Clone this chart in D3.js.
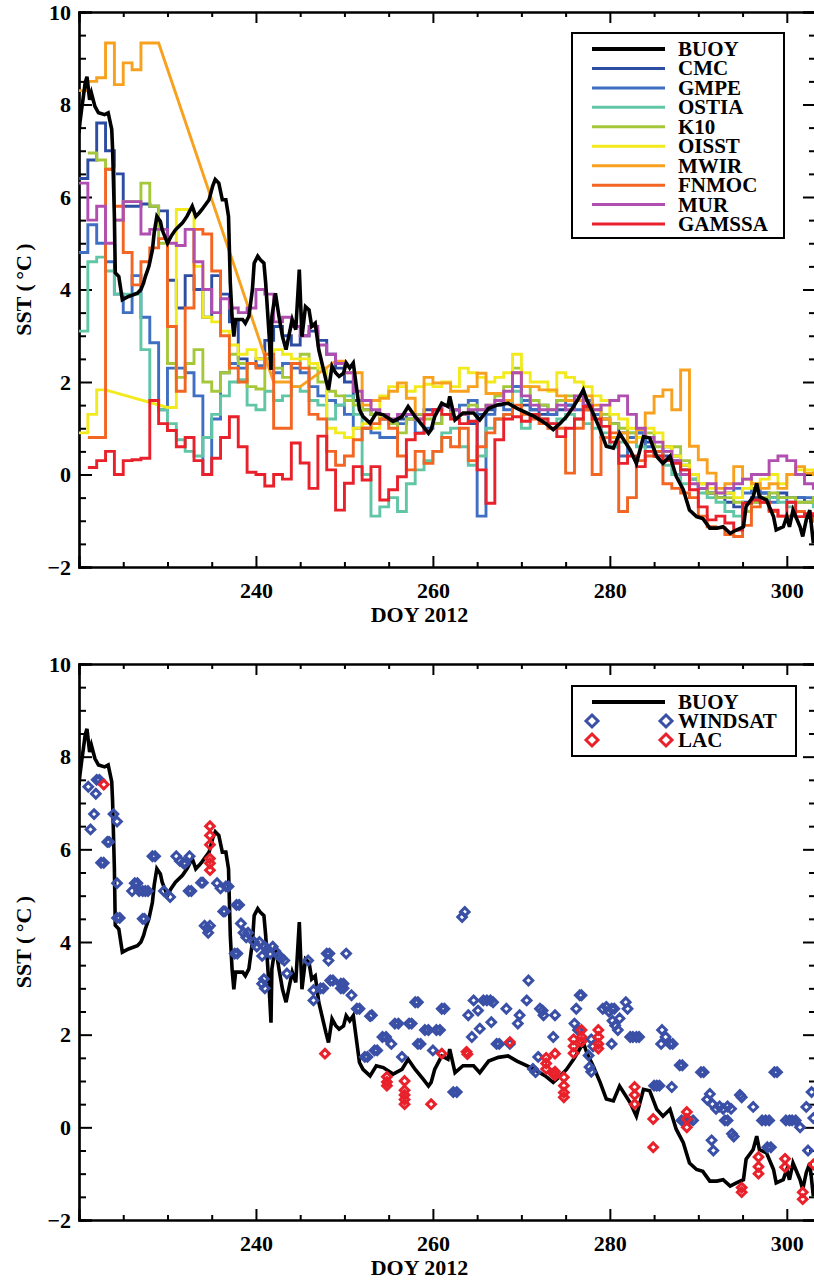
<!DOCTYPE html>
<html>
<head>
<meta charset="utf-8">
<script src="https://cdn.jsdelivr.net/npm/d3@7"></script>
<style>
body { margin: 0; background: #fff; }
svg { display: block; }
text { font-family: "Liberation Serif", "Times New Roman", serif; font-weight: bold; fill: #000; }
</style>
</head>
<body>
<svg width="814" height="1282"></svg>
<script>
var svg = d3.select('svg');

// days 220..303, one value per day (null = no data)
var days = d3.range(220, 304);

var cmc = [6.4, 6.8, 7.6, 7.0, 6.5, 5.8, 5.8, 5.85, 5.8, 5.7,
    4.2, 3.6, 4.3, 4.0, 3.4, 4.3, 3.9, 3.3, 2.5, 2.4,
    2.5, 2.9, 3.2, 3.0, 2.8, 3.0, 3.1, 2.9, 2.6, 2.3,
    2.0, 1.6, 1.4, 1.3, 1.2, 1.15, 1.2, 1.3, 1.3, 1.4,
    1.4, 1.5, 1.4, 1.3, 1.1, 1.3, 1.4, 1.5, 1.6, 1.9,
    1.5, 1.4, 1.3, 1.3, 1.4, 1.5, 1.6, 1.4, 1.3, 1.2,
    1.1, 0.9, 0.8, 0.9, 0.7, 0.5, 0.4, 0.3, 0.1, -0.1,
    -0.3, -0.4, -0.5, -0.6, -0.7, -0.6, -0.5, -0.4, -0.5, -0.4,
    -0.5, -0.5, -0.6, -0.6];
var gmpe = [4.8, 5.4, 5.0, 4.6, 3.9, 3.5, 4.3, 3.4, 2.85, 1.4,
    2.3, 2.3, 2.2, 1.7, 0.0, 1.2, 2.2, 2.4, 2.3, 2.4,
    2.35, 2.5, 2.2, 2.4, 2.3, 2.2, 1.9, 1.7, 1.6, 1.5,
    1.3, 1.0, 1.0, 0.9, 0.8, 0.8, 1.1, 1.2, 0.9, 1.0,
    1.1, 1.3, 1.4, 1.5, 1.6, -0.9, 1.3, 1.5, 1.4, 1.9,
    1.6, 1.4, 1.5, 1.3, 1.6, 1.5, 1.4, 1.6, 1.3, 0.8,
    0.6, 0.4, 0.8, 0.9, 0.6, 0.5, 0.6, 0.4, 0.2, 0.0,
    -0.3, -0.4, -0.5, -0.4, -0.3, -0.4, -0.3, -0.4, -0.6, -0.5,
    -0.6, -0.5, -0.5, -0.6];
var ostia = [3.1, 4.6, 4.7, 4.4, 3.9, 3.9, 3.9, 2.7, 1.6, 1.4,
    1.1, 0.75, 0.5, 0.4, 0.8, 1.3, 1.7, 2.0, 2.05, 1.5,
    1.4, 1.8, 1.6, 1.7, 1.9, 1.8, 1.6, 1.5, 1.2, 1.5,
    1.7, 1.3, 0.0, -0.9, -0.7, -0.5, -0.8, -0.2, 0.1, 0.3,
    0.5, 0.9, 1.0, 0.6, 0.2, 0.4, 1.0, 1.2, 1.3, 1.8,
    1.0, 1.3, 1.2, 1.1, 1.2, 1.3, 1.2, 1.1, 1.0, 0.9,
    0.6, 0.7, 0.9, 0.6, 0.5, 0.4, 0.2, 0.0, -0.2, -0.1,
    -0.4, -0.5, -0.6, -0.8, -0.9, -0.8, -0.6, -0.6, -0.5, -0.6,
    -0.7, -0.6, -0.6, -0.7];
var k10 = [null, 6.95, 6.8, 6.6, 5.5, 5.9, 5.9, 6.3, 5.8, 5.0,
    2.4, 2.1, 2.4, 2.7, 2.0, 1.8, 2.2, 2.6, 2.4, 1.9,
    1.85, 2.5, 2.3, 2.1, 2.4, 2.6, 2.3, 2.0, 1.8, 1.7,
    1.6, 1.5, 1.4, 1.3, 1.3, 1.1, 0.9, 1.2, 1.3, 1.2,
    1.1, 1.3, 1.4, 1.3, 1.5, 1.4, 1.5, 1.7, 1.9, 2.3,
    1.9, 1.6, 1.5, 1.4, 1.6, 1.7, 1.6, 1.5, 1.4, 1.3,
    1.1, 1.0, 0.9, 0.8, 0.9, 0.6, 0.5, 0.6, 0.3, 0.0,
    -0.2, -0.4, -0.5, -0.5, -0.6, -0.8, -0.6, -0.5, -0.4, -0.5,
    -0.5, -0.6, -0.6, -0.5];
var oisst = [0.9, 1.3, 1.83, null, null, null, null, null, null, null,
    1.45, 5.73, 5.73, 4.5, 3.4, 3.3, 3.1, 2.8, 2.6, 2.7,
    2.5, 2.6, 2.7, 2.6, 2.5, 2.5, 2.4, 2.3, 1.0, 0.9,
    0.8, 1.0, 1.1, 1.0, 1.7, 1.9, 1.9, 1.8, 1.9, 1.95,
    1.9, 2.0, 1.9, 2.3, 2.2, 2.1, 2.0, 2.1, 2.2, 2.6,
    2.2, 2.0, 2.0, 1.8, 2.2, 2.1, 2.0, 1.9, 1.7, 1.6,
    1.3, 1.2, 1.0, 0.8, 1.0, 0.9, 0.6, 0.4, 0.2, 0.0,
    -0.2, -0.3, -0.4, -0.4, -0.5, -0.3, -0.2, -0.1, 0.0, -0.2,
    0.0, 0.1, 0.1, 0.0];
var mwir = [8.3, 8.5, 8.58, 9.33, 8.43, 8.9, 8.75, 9.33, 9.33, null,
    null, null, null, null, null, null, null, null, null, null,
    null, null, 2.0, 2.0, 1.9, null, null, null, null, 2.45,
    2.2, 2.2, 1.5, 1.6, 1.65, 1.8, 1.98, 1.65, 1.2, 2.1,
    1.98, 1.98, 1.8, 1.8, 1.9, 2.19, 1.75, 1.75, 1.6, 2.2,
    1.9, 1.9, 1.83, 1.83, 1.7, 1.6, 1.6, 1.7, 1.5, 1.2,
    0.8, 0.9, 0.7, 0.97, 1.33, 1.69, 1.83, 1.4, 2.26, 0.61,
    0.32, 0.03, -0.3, -0.2, 0.17, -0.1, -0.2, -0.3, -0.2, -0.3,
    0.0, 0.17, 0.03, 0.0];
var fnmoc = [null, 0.8, 0.8, 6.6, 5.8, 4.8, 4.1, 4.6, 4.9, 5.1,
    3.2, 1.8, 3.6, 5.3, 5.2, 4.4, 3.0, 2.3, 2.0, 2.4,
    2.3, 2.6, 1.0, 1.0, 2.4, 2.3, 1.3, 1.2, 0.5, 0.2,
    0.4, 0.75, 1.0, 1.1, 1.2, 1.0, 0.4, 0.1, 0.5, 0.24,
    0.5, 0.8, 0.6, 1.0, 0.3, 0.6, 0.9, 1.2, 1.3, 1.5,
    1.3, 1.2, 1.1, 1.0, 1.0, 0.03, 1.0, 1.4, 0.0, 0.8,
    0.9, -0.8, -0.5, 0.3, 0.4, 0.5, -0.2, -0.3, -0.4, -0.5,
    -0.9, -1.13, -1.15, -1.3, -1.34, -1.1, -0.7, -0.6, -0.8, -0.9,
    -0.9, -0.8, -0.9, -1.0];
var mur = [6.3, 5.5, 5.8, 5.0, 5.5, 5.9, 5.9, 5.2, 5.3, 5.3,
    5.0, 4.95, 5.3, 4.6, 4.0, 3.5, 3.8, 3.6, 3.5, 3.6,
    4.0, 3.9, 3.3, 3.4, 3.2, 3.0, 3.2, 2.8, 2.6, 2.4,
    2.2, 1.8, 1.6, 1.4, 1.3, 1.2, 1.3, 1.3, 1.2, 1.3,
    1.4, 1.5, 1.4, 1.3, 1.4, 1.4, 1.5, 1.6, 1.8, 2.2,
    1.7, 1.5, 1.4, 1.4, 1.5, 1.4, 1.7, 1.5, 1.4, 1.5,
    1.6, 1.7, 1.3, 1.0, 0.8, 0.7, 0.5, 0.3, 0.0, -0.2,
    -0.3, -0.2, -0.4, -0.3, -0.2, -0.1, 0.0, 0.0, 0.3, 0.4,
    0.3, 0.0, -0.2, -0.3];
var gamssa = [null, 0.15, 0.3, 0.5, 0.0, 0.3, 0.32, 0.35, 1.6, 1.1,
    0.95, 0.6, 0.8, 0.3, 0.0, 0.35, 0.8, 1.25, 0.6, 0.05,
    0.0, -0.25, 0.0, -0.1, 0.68, 0.25, -0.3, 0.83, 0.1, -0.77,
    -0.19, 0.17, -0.12, 0.17, -0.55, -0.33, -0.05, 0.75, 0.89, 1.29,
    1.4, 1.3, 1.2, 1.1, 1.15, 0.1, -0.62, 0.75, 1.2, 1.25,
    1.15, 1.3, 1.2, 1.1, 0.82, 1.0, 1.2, 1.47, 1.2, 1.04,
    0.7, 0.24, 0.4, 0.17, 0.5, 0.4, 0.3, 0.24, 0.1, -0.33,
    -0.7, -0.98, -0.9, -1.05, -1.2, -0.62, -0.55, -0.6, -0.77, -0.9,
    -0.6, -0.91, -0.85, -0.9];

// buoy record
var buoyDays = [220.0, 220.1, 220.3, 220.5, 220.7, 220.9, 221.2, 221.4, 221.8, 222.2,
    222.9, 223.3, 223.7, 223.8, 224.0, 224.1, 224.5, 224.9, 225.6, 226.6,
    227.0, 227.3, 227.5, 227.9, 228.3, 228.5, 228.8, 229.2, 229.4, 230.0,
    230.4, 230.9, 231.7, 232.2, 232.8, 233.2, 233.6, 233.9, 234.7, 235.1,
    235.4, 235.8, 236.2, 236.6, 236.9, 237.1, 237.3, 237.5, 237.7, 238.5,
    238.8, 239.2, 239.6, 239.8, 240.2, 240.5, 240.9, 241.1, 241.5, 241.7,
    241.8, 242.2, 242.6, 243.0, 243.4, 243.7, 244.1, 244.5, 244.9, 245.2,
    245.6, 246.0, 246.3, 246.7, 247.1, 247.9, 248.2, 248.6, 249.0, 249.4,
    249.9, 250.2, 250.6, 251.0, 251.4, 251.7, 252.1, 252.9, 253.6, 254.4,
    255.5, 256.5, 257.2, 258.0, 258.9, 259.5, 259.8, 260.2, 261.0, 261.7,
    261.9, 262.5, 263.4, 264.6, 265.3, 266.3, 267.4, 268.5, 269.5, 270.6,
    271.5, 272.7, 273.6, 274.4, 275.1, 275.9, 276.6, 277.0, 277.4, 278.1,
    278.9, 279.6, 280.4, 281.1, 282.3, 283.0, 283.8, 284.5, 285.3, 286.0,
    286.8, 287.5, 288.3, 289.0, 289.8, 290.5, 291.3, 292.1, 292.8, 293.6,
    294.3, 295.1, 295.4, 296.2, 296.6, 296.9, 297.7, 298.5, 298.8, 299.6,
    300.0, 300.3, 300.7, 301.5, 301.8, 302.2, 302.6, 303.0];
var buoyTemps = [7.39, 7.6, 7.9, 8.18, 8.47, 8.6, 8.1, 8.25, 7.96, 7.82,
    7.78, 7.82, 7.46, 7.02, 5.58, 4.36, 4.28, 3.78, 3.85, 3.92,
    4.0, 4.14, 4.28, 4.5, 4.86, 5.23, 5.58, 5.47, 5.29, 5.0,
    5.15, 5.29, 5.44, 5.58, 5.8, 5.58, 5.66, 5.73, 5.94, 6.23,
    6.38, 6.3, 5.94, 5.94, 5.58, 4.14, 3.42, 2.98, 3.35, 3.35,
    3.27, 3.42, 4.0, 4.57, 4.72, 4.64, 4.57, 4.14, 2.98, 2.26,
    3.42, 3.92, 3.42, 2.98, 2.7, 2.98, 3.35, 3.13, 4.43, 2.98,
    3.63, 3.56, 3.2, 3.27, 2.7, 2.05, 1.83, 2.34, 2.2, 2.12,
    2.19, 2.41, 2.3, 2.41, 1.83, 1.4, 1.25, 1.11, 1.33, 1.29,
    1.15, 1.25, 1.47, 1.25, 1.04, 0.89, 0.97, 1.25, 1.54, 1.47,
    1.69, 1.18, 1.33, 1.33, 1.18, 1.43, 1.51, 1.54, 1.43, 1.33,
    1.25, 1.11, 0.97, 1.11, 1.25, 1.47, 1.69, 1.83, 1.61, 1.33,
    0.97, 0.61, 0.57, 0.89, 0.53, 0.24, 0.82, 0.79, 0.39, 0.24,
    0.39, -0.04, -0.33, -0.77, -0.91, -0.95, -1.16, -1.16, -1.13, -1.27,
    -1.2, -1.13, -0.69, -0.48, -0.19, -0.48, -0.55, -0.91, -1.2, -1.13,
    -0.91, -1.13, -0.77, -1.13, -1.34, -0.98, -0.77, -1.49];

// satellite retrievals (bottom panel)
var windsatDays = [221.05, 221.3, 221.7, 221.9, 222.0, 222.3, 222.5, 222.8, 223.2, 223.4,
    223.9, 224.3, 224.3, 224.3, 224.6, 226.0, 226.3, 226.6, 226.8, 227.2,
    227.4, 227.2, 227.5, 227.8, 228.3, 228.6, 229.6, 230.3, 231.0, 231.4,
    231.8, 232.0, 232.5, 232.4, 232.7, 233.8, 234.0, 234.2, 234.5, 234.8,
    234.6, 235.6, 236.0, 236.3, 236.5, 236.6, 236.9, 237.6, 237.9, 237.8,
    238.1, 238.3, 238.6, 238.9, 239.1, 239.8, 240.1, 240.4, 240.7, 241.0,
    241.3, 241.6, 241.9, 242.2, 242.6, 242.9, 243.2, 240.7, 241.0, 240.9,
    243.5, 245.9, 246.5, 246.5, 247.3, 247.6, 248.0, 248.3, 248.2, 248.4,
    248.7, 249.6, 249.9, 249.6, 249.9, 250.2, 250.8, 251.4, 251.7, 252.3,
    252.6, 252.9, 253.1, 253.4, 253.7, 254.3, 254.7, 255.3, 255.7, 256.1,
    256.5, 257.3, 257.6, 258.0, 258.3, 258.3, 258.6, 259.1, 259.5, 260.0,
    260.4, 260.8, 261.0, 261.3, 262.3, 262.7, 263.3, 263.6, 264.0, 264.4,
    264.6, 265.1, 265.3, 265.7, 266.1, 266.5, 266.8, 266.6, 267.2, 267.5,
    268.3, 268.7, 269.6, 269.8, 270.6, 270.8, 271.3, 271.6, 271.9, 272.1,
    272.4, 272.5, 273.6, 273.8, 276.0, 276.2, 276.4, 276.6, 276.8, 277.6,
    277.9, 278.1, 277.7, 277.9, 279.2, 279.6, 279.9, 280.2, 280.5, 280.3,
    280.6, 280.9, 281.1, 280.2, 281.8, 282.0, 282.3, 282.6, 283.0, 283.3,
    285.0, 285.3, 285.6, 285.8, 285.9, 286.3, 286.8, 287.1, 287.0, 287.9,
    288.2, 288.1, 288.5, 288.9, 289.4, 290.3, 290.6, 291.0, 291.3, 291.6,
    291.5, 291.7, 292.0, 292.4, 292.8, 293.3, 293.7, 293.0, 293.3, 293.8,
    294.0, 294.7, 294.9, 296.2, 297.2, 297.6, 298.0, 297.8, 298.2, 298.6,
    298.9, 299.9, 300.3, 300.6, 301.0, 301.5, 302.2, 302.4, 302.8, 303.0];
var windsatTemps = [7.35, 6.43, 6.76, 7.2, 7.5, 7.5, 5.71, 5.71, 6.16, 6.16,
    6.76, 6.6, 5.27, 4.52, 4.52, 5.1, 5.27, 5.27, 5.1, 4.5,
    4.5, 5.1, 5.1, 5.1, 5.85, 5.85, 5.1, 4.97, 5.85, 5.75,
    5.7, 5.7, 5.85, 5.1, 5.1, 5.28, 5.28, 4.35, 4.3, 4.35,
    4.2, 5.27, 5.16, 4.66, 4.66, 5.2, 5.2, 3.75, 3.75, 4.8,
    4.8, 4.4, 4.2, 4.1, 4.2, 4.0, 3.9, 4.0, 3.7, 3.9,
    3.85, 3.75, 3.9, 3.8, 3.7, 3.65, 3.6, 3.1, 3.0, 3.2,
    3.32, 3.6, 2.96, 2.74, 3.0, 3.0, 3.75, 3.75, 3.6, 3.17,
    3.17, 3.1, 3.1, 3.0, 3.0, 3.75, 2.85, 2.56, 2.56, 1.52,
    1.52, 2.4, 2.42, 1.66, 1.66, 1.95, 1.95, 1.8, 2.24, 2.24,
    1.52, 2.24, 2.24, 2.7, 2.7, 1.8, 1.8, 2.1, 2.1, 1.66,
    2.1, 2.1, 2.56, 2.56, 0.76, 0.76, 4.54, 4.65, 2.42, 1.95,
    2.74, 2.52, 2.13, 2.74, 2.74, 2.74, 2.7, 2.27, 1.8, 1.8,
    2.56, 1.8, 2.24, 2.42, 2.74, 3.17, 1.26, 1.19, 1.52, 2.56,
    2.52, 2.42, 1.95, 2.42, 2.24, 2.56, 2.1, 2.85, 2.85, 1.55,
    1.9, 1.75, 1.3, 1.2, 2.56, 2.6, 2.5, 2.56, 2.56, 2.3,
    2.2, 2.1, 2.35, 1.8, 2.7, 2.56, 1.95, 1.95, 1.95, 1.95,
    0.9, 0.9, 0.9, 1.8, 2.1, 1.95, 1.8, 1.8, 0.87, 1.34,
    1.34, 0.15, 0.15, 0.15, 0.15, 1.19, 1.19, 0.6, 0.72, 0.5,
    -0.28, -0.5, 0.4, 0.45, 0.4, 0.45, 0.4, 0.15, 0.15, -0.14,
    -0.2, 0.7, 0.65, 0.44, 0.15, 0.15, 0.15, -0.43, -0.43, 1.19,
    1.19, 0.15, 0.15, 0.15, 0.15, 0.0, 0.44, -0.5, 0.76, 0.2];

var lacDays = [222.8, 234.8, 234.8, 234.8, 234.8, 234.8, 234.8, 247.8, 254.8, 254.8,
    254.8, 256.8, 256.8, 256.8, 256.8, 256.8, 259.8, 261.0, 263.8, 263.9,
    268.7, 272.8, 272.8, 272.8, 273.6, 273.8, 273.8, 273.8, 274.8, 274.8,
    274.8, 274.8, 275.9, 275.9, 275.9, 276.8, 276.8, 276.8, 278.7, 278.7,
    278.7, 278.7, 282.8, 282.8, 282.8, 284.9, 284.9, 288.7, 288.7, 288.7,
    294.9, 294.9, 296.8, 296.8, 296.8, 299.8, 299.8, 301.8, 301.8, 303.0];
var lacTemps = [7.4, 6.5, 6.3, 6.1, 5.8, 5.7, 5.55, 1.59, 1.09, 0.98,
    0.9, 1.0, 0.8, 0.7, 0.6, 0.5, 0.5, 1.59, 1.63, 1.58,
    1.84, 1.5, 1.38, 1.26, 1.16, 1.59, 1.2, 1.12, 1.08, 0.9,
    0.75, 0.65, 1.9, 1.75, 1.6, 2.1, 1.95, 1.85, 2.1, 1.95,
    1.8, 1.7, 0.87, 0.7, 0.5, 0.18, -0.43, 0.33, 0.18, 0.0,
    -1.3, -1.4, -0.64, -0.85, -1.0, -0.68, -0.86, -1.4, -1.55, -0.8];

var seriesNames = ['CMC', 'GMPE', 'OSTIA', 'K10', 'OISST', 'MWIR', 'FNMOC', 'MUR', 'GAMSSA'];
var seriesValues = [cmc, gmpe, ostia, k10, oisst, mwir, fnmoc, mur, gamssa];
var seriesColors = ['#2c4da2', '#3e6fc2', '#60c6a6', '#a5c83b', '#f2ea1d', '#f7a11f', '#f36523', '#b14fb1', '#e8212b'];
var yTickValues = [-2, 0, 2, 4, 6, 8, 10];
var xTickValues = [240, 260, 280, 300];

var x = d3.scaleLinear().domain([220, 303.3]).range([79, 816]);
var yTop = d3.scaleLinear().domain([-2, 10]).range([567, 12]);
var yBot = d3.scaleLinear().domain([-2, 10]).range([1220, 664]);

/**
 * Turns daily values into step corners; gaps are bridged by a straight line
 */
function stepPoints(vals) {
    var pts = [];
    var prev = null;
    vals.forEach(function(v, i) {
        if (v === null) return;
        var d = days[i];
        if (prev) pts.push([d - prev[0] === 1 ? d : prev[0] + 1, prev[1]]);
        pts.push([d, v]);
        prev = [d, v];
    });
    pts.push([prev[0] + 1, prev[1]]);
    return pts;
}

function drawFrame(y, id) {
    var g = svg.append('g');
    var x0 = x.range()[0], x1 = x.range()[1];
    var y0 = y.range()[0], y1 = y.range()[1];
    var minorX = d3.range(225, 304, 5).filter(function(d) { return d % 20 !== 0; });
    var minorY = d3.range(-1.5, 10, 0.5).filter(function(d) { return d % 2 !== 0; });

    g.append('g').attr('transform', 'translate(0,' + y0 + ')')
        .call(d3.axisBottom(x).tickValues(xTickValues).tickSize(-11).tickPadding(15).tickFormat(d3.format('d')));
    g.append('g').attr('transform', 'translate(0,' + y0 + ')')
        .call(d3.axisBottom(x).tickValues(minorX).tickSize(-5).tickFormat(''));
    g.append('g').attr('transform', 'translate(0,' + y1 + ')')
        .call(d3.axisTop(x).tickValues(xTickValues).tickSize(-11).tickFormat(''));
    g.append('g').attr('transform', 'translate(0,' + y1 + ')')
        .call(d3.axisTop(x).tickValues(minorX).tickSize(-5).tickFormat(''));
    g.append('g').attr('transform', 'translate(' + x0 + ',0)')
        .call(d3.axisLeft(y).tickValues(yTickValues).tickSize(-13).tickPadding(8).tickFormat(d3.format('d')));
    g.append('g').attr('transform', 'translate(' + x0 + ',0)')
        .call(d3.axisLeft(y).tickValues(minorY).tickSize(-7).tickFormat(''));
    g.append('g').attr('transform', 'translate(' + x1 + ',0)')
        .call(d3.axisRight(y).tickValues(yTickValues).tickSize(-13).tickFormat(''));
    g.append('g').attr('transform', 'translate(' + x1 + ',0)')
        .call(d3.axisRight(y).tickValues(minorY).tickSize(-7).tickFormat(''));

    g.selectAll('.domain').attr('stroke', '#000').attr('stroke-width', 2.2);
    g.selectAll('.tick line').attr('stroke', '#000').attr('stroke-width', 2);
    g.selectAll('.tick text').style('font-family', '"Liberation Serif", serif')
        .style('font-weight', 'bold').style('font-size', '22px').attr('fill', '#000');

    g.append('text').attr('x', (x0 + 816) / 2 - 28).attr('y', y0 + 55)
        .attr('text-anchor', 'middle').style('font-size', '22px').text('DOY 2012');
    g.append('text').attr('transform', 'translate(31,' + ((y0 + y1) / 2) + ') rotate(-90)')
        .attr('text-anchor', 'middle').style('font-size', '22px').text('SST (\u2009°C\u2009)');

    svg.append('clipPath').attr('id', id)
        .append('rect').attr('x', x0).attr('y', y1).attr('width', x1 - x0).attr('height', y0 - y1);
}

drawFrame(yTop, 'clipTop');
drawFrame(yBot, 'clipBot');

// top panel: analyses vs buoy
var topPlot = svg.append('g').attr('clip-path', 'url(#clipTop)');
var stepLine = d3.line()
    .x(function(d) { return x(d[0]); })
    .y(function(d) { return yTop(d[1]); });

seriesValues.forEach(function(vals, i) {
    topPlot.append('path')
        .attr('d', stepLine(stepPoints(vals)))
        .attr('fill', 'none')
        .attr('stroke', seriesColors[i])
        .attr('stroke-width', 2.9)
        .attr('stroke-linejoin', 'miter');
});

var buoyTop = d3.line()
    .x(function(d, i) { return x(buoyDays[i]); })
    .y(function(d) { return yTop(d); });
topPlot.append('path').attr('d', buoyTop(buoyTemps))
    .attr('fill', 'none').attr('stroke', '#000').attr('stroke-width', 3.6);

// top legend
var legTop = svg.append('g');
legTop.append('rect').attr('x', 572).attr('y', 33).attr('width', 212).attr('height', 205)
    .attr('fill', '#fff').attr('stroke', '#000').attr('stroke-width', 2);
var legNames = ['BUOY'].concat(seriesNames);
var legColors = ['#000'].concat(seriesColors);
legNames.forEach(function(n, i) {
    var ly = 49 + i * 19.45;
    legTop.append('line').attr('x1', 592).attr('x2', 665).attr('y1', ly).attr('y2', ly)
        .attr('stroke', legColors[i]).attr('stroke-width', i === 0 ? 4 : 3);
    legTop.append('text').attr('x', 678).attr('y', ly + 7).style('font-size', '21px').text(n);
});

// bottom panel: satellite retrievals vs buoy
var botPlot = svg.append('g').attr('clip-path', 'url(#clipBot)');
var diamond = function(cx, cy, r) {
    return 'M' + cx + ',' + (cy - r) + 'L' + (cx + r) + ',' + cy + 'L' + cx + ',' + (cy + r) + 'L' + (cx - r) + ',' + cy + 'Z';
};

var buoyBot = d3.line()
    .x(function(d, i) { return x(buoyDays[i]); })
    .y(function(d) { return yBot(d); });
botPlot.append('path').attr('d', buoyBot(buoyTemps))
    .attr('fill', 'none').attr('stroke', '#000').attr('stroke-width', 3.6);

botPlot.selectAll('.windsat')
    .data(windsatTemps)
    .enter()
    .append('path')
    .attr('class', 'windsat')
    .attr('d', function(d, i) { return diamond(x(windsatDays[i]), yBot(d), 4.3); })
    .attr('fill', 'none').attr('stroke', '#3a50a6').attr('stroke-width', 3);

botPlot.selectAll('.lac')
    .data(lacTemps)
    .enter()
    .append('path')
    .attr('class', 'lac')
    .attr('d', function(d, i) { return diamond(x(lacDays[i]), yBot(d), 4.3); })
    .attr('fill', 'none').attr('stroke', '#e8212b').attr('stroke-width', 3);

// bottom legend
var legBot = svg.append('g');
legBot.append('rect').attr('x', 572).attr('y', 686).attr('width', 224).attr('height', 70)
    .attr('fill', '#fff').attr('stroke', '#000').attr('stroke-width', 2);
legBot.append('line').attr('x1', 592).attr('x2', 665).attr('y1', 702).attr('y2', 702)
    .attr('stroke', '#000').attr('stroke-width', 4);
legBot.append('text').attr('x', 678).attr('y', 709).style('font-size', '21px').text('BUOY');
[['WINDSAT', '#3a50a6', 721], ['LAC', '#e8212b', 740]].forEach(function(r) {
    [592, 666].forEach(function(cx) {
        legBot.append('path').attr('d', diamond(cx, r[2], 6))
            .attr('fill', 'none').attr('stroke', r[1]).attr('stroke-width', 3);
    });
    legBot.append('text').attr('x', 678).attr('y', r[2] + 7).style('font-size', '21px').text(r[0]);
});
</script>
</body>
</html>
